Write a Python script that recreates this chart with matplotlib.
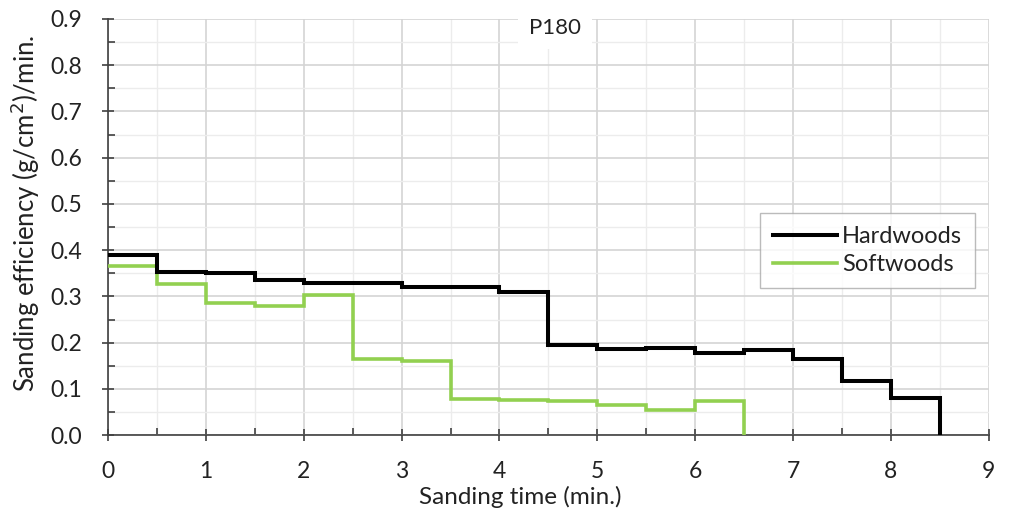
import numpy as np
import matplotlib
matplotlib.use("Agg")
import matplotlib.pyplot as plt
from matplotlib.ticker import MultipleLocator

plt.rcParams['font.family'] = ['Lato', 'DejaVu Sans']

# Data (each step lasts 0.5 min, starting at the given time)
hard_time = [0, 0.5, 1, 1.5, 2, 2.5, 3, 3.5, 4, 4.5, 5, 5.5, 6, 6.5, 7, 7.5, 8, 8.5]
hard_eff = [0.390, 0.352, 0.350, 0.336, 0.328, 0.330, 0.320, 0.320, 0.310,
            0.196, 0.186, 0.189, 0.177, 0.185, 0.164, 0.118, 0.081, 0.0]
soft_time = [0, 0.5, 1, 1.5, 2, 2.5, 3, 3.5, 4, 4.5, 5, 5.5, 6, 6.5]
soft_eff = [0.366, 0.327, 0.285, 0.280, 0.303, 0.164, 0.160, 0.078, 0.077,
            0.074, 0.065, 0.054, 0.074, 0.0]
series_names = ["Hardwoods", "Softwoods"]
title_text = "P180"

fig = plt.figure(figsize=(10.09, 5.12), dpi=100)
ax = fig.add_axes([0.107, 0.150, 0.873, 0.813])

ax.step(hard_time, hard_eff, where='post', color='black', lw=2.9,
        label=series_names[0], solid_joinstyle='miter', zorder=4)
ax.step(soft_time, soft_eff, where='post', color='#92D050', lw=2.6,
        label=series_names[1], solid_joinstyle='miter', zorder=3)

ax.set_xlim(0, 9)
ax.set_ylim(0, 0.9)
ax.xaxis.set_major_locator(MultipleLocator(1))
ax.xaxis.set_minor_locator(MultipleLocator(0.5))
ax.yaxis.set_major_locator(MultipleLocator(0.1))
ax.yaxis.set_minor_locator(MultipleLocator(0.05))
ax.yaxis.set_major_formatter(matplotlib.ticker.FormatStrFormatter('%.1f'))

ax.grid(which='major', color='#d4d4d4', lw=1.2, zorder=0)
ax.grid(which='minor', color='#ececec', lw=1.0, zorder=0)
ax.set_axisbelow(True)

for s in ['top', 'right']:
    ax.spines[s].set_visible(False)
for s in ['left', 'bottom']:
    ax.spines[s].set_color('#404040')
    ax.spines[s].set_linewidth(1.2)

ax.tick_params(which='major', direction='inout', length=9, width=1.2,
               color='#404040', labelsize=16.5, labelcolor='#222222')
ax.tick_params(axis='x', which='major', pad=14)
ax.tick_params(axis='y', which='major', pad=14)
ax.tick_params(which='minor', direction='in', length=5, width=1.2,
               color='#404040')

ax.set_xlabel("Sanding time (min.)", fontsize=17.5, color='#222222')
ax.xaxis.set_label_coords(0.468, -0.122)
ax.set_ylabel("Sanding efficiency (g/cm$^2$)/min.", fontsize=18.5,
              color='#222222')
ax.yaxis.set_label_coords(-0.075, 0.534)

ax.text(4.57, 0.881, title_text, fontsize=16, color='#222222',
        ha='center', va='center', zorder=5,
        bbox=dict(facecolor='white', edgecolor='none', pad=8))

leg = ax.legend(loc='upper right', bbox_to_anchor=(0.984, 0.534),
                fontsize=17, frameon=True, fancybox=False,
                edgecolor='#aaaaaa', handlelength=2.7, borderpad=0.55,
                labelspacing=0.3, handletextpad=0.2, borderaxespad=0)
leg.get_frame().set_linewidth(1.0)
for t in leg.get_texts():
    t.set_color('#222222')

fig.savefig("out.png", dpi=100)
